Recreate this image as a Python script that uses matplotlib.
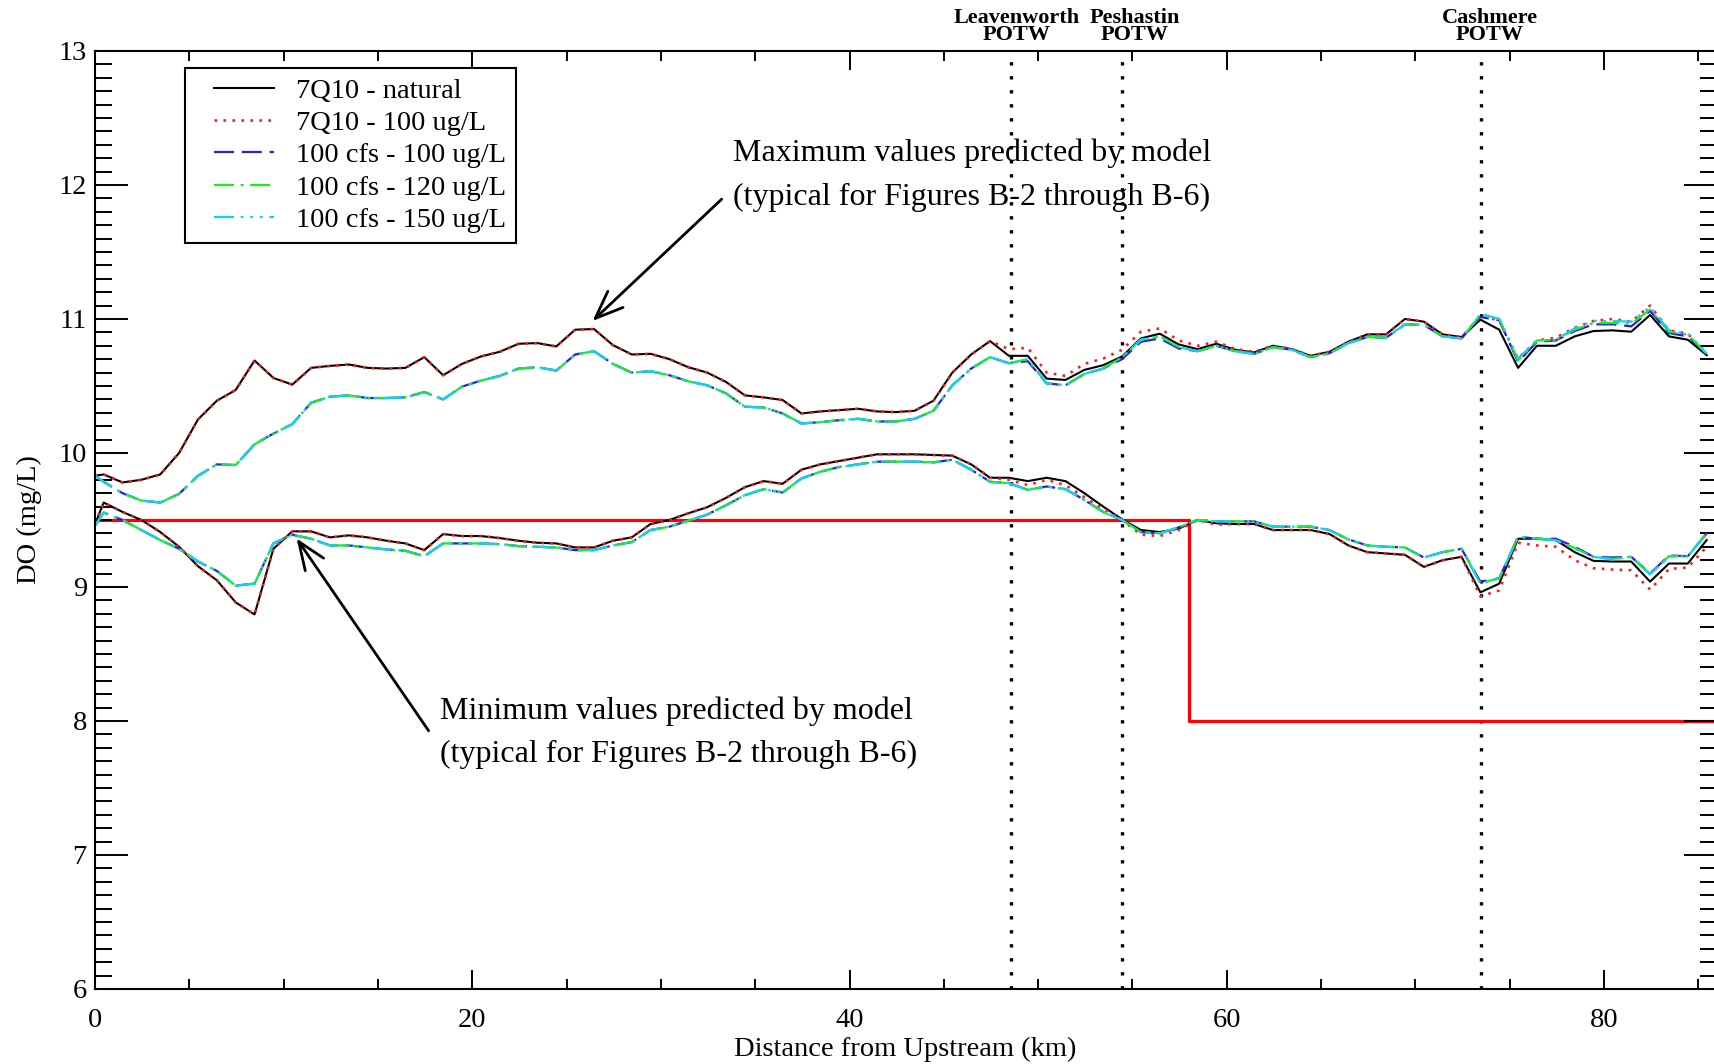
import numpy as np
import matplotlib
matplotlib.use('Agg')
import matplotlib.pyplot as plt
from matplotlib.ticker import MultipleLocator
from matplotlib.legend_handler import HandlerLine2D

plt.rcParams['font.family'] = ['Liberation Serif', 'DejaVu Serif']

# distance of model segments from the upstream boundary (km)
km = [0, 0.45, 1.45, 2.45, 3.45, 4.45, 5.45, 6.45, 7.45, 8.45,
      9.45, 10.45, 11.45, 12.45, 13.45, 14.45, 15.45, 16.45, 17.45, 18.45,
      19.45, 20.45, 21.45, 22.45, 23.45, 24.45, 25.45, 26.45, 27.45, 28.45,
      29.45, 30.45, 31.45, 32.45, 33.45, 34.45, 35.45, 36.45, 37.45, 38.45,
      39.45, 40.45, 41.45, 42.45, 43.45, 44.45, 45.45, 46.45, 47.45, 48.45,
      49.45, 50.45, 51.45, 52.45, 53.45, 54.45, 55.45, 56.45, 57.45, 58.45,
      59.45, 60.45, 61.45, 62.45, 63.45, 64.45, 65.45, 66.45, 67.45, 68.45,
      69.45, 70.45, 71.45, 72.45, 73.45, 74.45, 75.45, 76.45, 77.45, 78.45,
      79.45, 80.45, 81.45, 82.45, 83.45, 84.45, 85.45]

# daily maximum DO (mg/L)
nat_max = [9.83, 9.84, 9.78, 9.80, 9.84, 10.00, 10.25, 10.39, 10.47, 10.69,
           10.56, 10.51, 10.635, 10.65, 10.66, 10.635, 10.63, 10.635, 10.715, 10.58,
           10.665, 10.72, 10.755, 10.815, 10.82, 10.795, 10.92, 10.925, 10.805, 10.735,
           10.74, 10.70, 10.64, 10.60, 10.53, 10.43, 10.415, 10.395, 10.295, 10.31,
           10.32, 10.33, 10.31, 10.305, 10.315, 10.39, 10.60, 10.735, 10.835, 10.725,
           10.725, 10.555, 10.545, 10.62, 10.655, 10.72, 10.855, 10.89, 10.81, 10.775,
           10.815, 10.77, 10.75, 10.80, 10.775, 10.725, 10.755, 10.83, 10.885, 10.885,
           11.00, 10.98, 10.885, 10.865, 10.995, 10.92, 10.635, 10.80, 10.80, 10.87,
           10.91, 10.915, 10.905, 11.03, 10.87, 10.845, 10.73]
q7_max = [9.83, 9.84, 9.78, 9.80, 9.84, 10.00, 10.25, 10.39, 10.47, 10.69,
          10.56, 10.51, 10.635, 10.65, 10.66, 10.635, 10.63, 10.635, 10.715, 10.58,
          10.665, 10.72, 10.755, 10.815, 10.82, 10.795, 10.92, 10.925, 10.805, 10.735,
          10.74, 10.70, 10.64, 10.60, 10.53, 10.43, 10.415, 10.395, 10.295, 10.31,
          10.32, 10.33, 10.31, 10.305, 10.315, 10.39, 10.60, 10.735, 10.835, 10.775,
          10.785, 10.60, 10.575, 10.665, 10.705, 10.77, 10.905, 10.93, 10.84, 10.80,
          10.83, 10.775, 10.755, 10.80, 10.775, 10.725, 10.755, 10.83, 10.885, 10.885,
          11.00, 10.98, 10.885, 10.865, 11.02, 10.99, 10.705, 10.84, 10.86, 10.935,
          10.985, 11.00, 10.98, 11.10, 10.915, 10.89, 10.74]
cfs100_max = [9.83, 9.785, 9.70, 9.645, 9.63, 9.695, 9.83, 9.915, 9.91, 10.065,
              10.145, 10.215, 10.375, 10.42, 10.43, 10.41, 10.41, 10.415, 10.455, 10.40,
              10.495, 10.54, 10.575, 10.63, 10.64, 10.615, 10.735, 10.76, 10.665, 10.60,
              10.61, 10.58, 10.535, 10.505, 10.445, 10.345, 10.34, 10.295, 10.22, 10.23,
              10.245, 10.255, 10.235, 10.235, 10.255, 10.315, 10.505, 10.63, 10.715, 10.67,
              10.685, 10.52, 10.505, 10.59, 10.63, 10.70, 10.83, 10.855, 10.78, 10.76,
              10.80, 10.76, 10.74, 10.79, 10.77, 10.715, 10.745, 10.82, 10.865, 10.86,
              10.96, 10.955, 10.87, 10.855, 11.015, 10.99, 10.68, 10.83, 10.84, 10.91,
              10.96, 10.96, 10.945, 11.06, 10.895, 10.87, 10.74]
cfs120_max = [9.83, 9.785, 9.70, 9.645, 9.63, 9.695, 9.83, 9.915, 9.91, 10.065,
              10.145, 10.215, 10.375, 10.42, 10.43, 10.41, 10.41, 10.415, 10.455, 10.40,
              10.495, 10.54, 10.575, 10.63, 10.64, 10.615, 10.735, 10.76, 10.665, 10.60,
              10.61, 10.58, 10.535, 10.505, 10.445, 10.345, 10.34, 10.295, 10.22, 10.23,
              10.245, 10.255, 10.235, 10.235, 10.255, 10.315, 10.505, 10.63, 10.715, 10.67,
              10.70, 10.52, 10.505, 10.59, 10.63, 10.715, 10.845, 10.87, 10.79, 10.76,
              10.80, 10.76, 10.74, 10.79, 10.77, 10.715, 10.745, 10.82, 10.865, 10.86,
              10.96, 10.955, 10.87, 10.855, 11.03, 11.00, 10.69, 10.84, 10.845, 10.92,
              10.97, 10.97, 10.965, 11.07, 10.905, 10.885, 10.74]
cfs150_max = [9.83, 9.785, 9.70, 9.645, 9.63, 9.695, 9.83, 9.915, 9.91, 10.065,
              10.145, 10.215, 10.375, 10.42, 10.43, 10.41, 10.41, 10.415, 10.455, 10.40,
              10.495, 10.54, 10.575, 10.63, 10.64, 10.615, 10.735, 10.76, 10.665, 10.60,
              10.61, 10.58, 10.535, 10.505, 10.445, 10.345, 10.34, 10.295, 10.22, 10.23,
              10.245, 10.255, 10.235, 10.235, 10.255, 10.315, 10.505, 10.63, 10.715, 10.67,
              10.70, 10.52, 10.505, 10.59, 10.63, 10.715, 10.845, 10.87, 10.79, 10.76,
              10.80, 10.76, 10.74, 10.79, 10.77, 10.715, 10.745, 10.82, 10.865, 10.86,
              10.96, 10.955, 10.87, 10.855, 11.04, 11.00, 10.705, 10.84, 10.845, 10.93,
              10.985, 10.985, 10.98, 11.09, 10.915, 10.89, 10.74]

# daily minimum DO (mg/L)
nat_min = [9.47, 9.63, 9.56, 9.50, 9.41, 9.30, 9.155, 9.05, 8.885, 8.795,
           9.285, 9.415, 9.415, 9.37, 9.385, 9.37, 9.345, 9.325, 9.275, 9.395,
           9.38, 9.38, 9.365, 9.345, 9.33, 9.325, 9.295, 9.295, 9.345, 9.37,
           9.47, 9.50, 9.55, 9.595, 9.665, 9.745, 9.79, 9.77, 9.875, 9.915,
           9.94, 9.965, 9.99, 9.99, 9.99, 9.985, 9.98, 9.915, 9.815, 9.815,
           9.79, 9.815, 9.79, 9.70, 9.60, 9.505, 9.425, 9.41, 9.435, 9.50,
           9.475, 9.47, 9.47, 9.425, 9.425, 9.425, 9.395, 9.31, 9.26, 9.25,
           9.24, 9.15, 9.20, 9.225, 8.96, 9.025, 9.36, 9.36, 9.35, 9.26,
           9.195, 9.19, 9.19, 9.04, 9.175, 9.175, 9.35]
q7_min = [9.47, 9.63, 9.56, 9.50, 9.41, 9.30, 9.155, 9.05, 8.885, 8.795,
          9.285, 9.415, 9.415, 9.37, 9.385, 9.37, 9.345, 9.325, 9.275, 9.395,
          9.38, 9.38, 9.365, 9.345, 9.33, 9.325, 9.295, 9.295, 9.345, 9.37,
          9.47, 9.50, 9.55, 9.595, 9.665, 9.745, 9.79, 9.77, 9.875, 9.915,
          9.94, 9.965, 9.99, 9.99, 9.99, 9.985, 9.98, 9.915, 9.815, 9.80,
          9.76, 9.80, 9.76, 9.67, 9.585, 9.50, 9.39, 9.38, 9.425, 9.50,
          9.465, 9.47, 9.47, 9.425, 9.425, 9.425, 9.395, 9.31, 9.26, 9.25,
          9.24, 9.15, 9.20, 9.225, 8.93, 8.975, 9.33, 9.31, 9.30, 9.20,
          9.14, 9.13, 9.125, 8.98, 9.135, 9.145, 9.30]
cfs100_min = [9.46, 9.555, 9.50, 9.425, 9.35, 9.285, 9.19, 9.12, 9.01, 9.025,
              9.325, 9.39, 9.36, 9.31, 9.31, 9.295, 9.28, 9.27, 9.23, 9.325,
              9.325, 9.325, 9.32, 9.305, 9.30, 9.295, 9.275, 9.275, 9.31, 9.335,
              9.425, 9.45, 9.495, 9.54, 9.61, 9.685, 9.73, 9.705, 9.81, 9.86,
              9.895, 9.915, 9.935, 9.935, 9.935, 9.93, 9.95, 9.875, 9.785, 9.775,
              9.725, 9.75, 9.73, 9.65, 9.56, 9.50, 9.41, 9.40, 9.445, 9.50,
              9.49, 9.49, 9.49, 9.45, 9.45, 9.45, 9.425, 9.355, 9.31, 9.30,
              9.295, 9.22, 9.26, 9.285, 9.04, 9.065, 9.375, 9.36, 9.36, 9.30,
              9.225, 9.22, 9.225, 9.10, 9.235, 9.23, 9.40]
cfs120_min = [9.46, 9.555, 9.50, 9.425, 9.35, 9.285, 9.19, 9.12, 9.01, 9.025,
              9.325, 9.39, 9.36, 9.31, 9.31, 9.295, 9.28, 9.27, 9.23, 9.325,
              9.325, 9.325, 9.32, 9.305, 9.30, 9.295, 9.275, 9.275, 9.31, 9.335,
              9.425, 9.45, 9.495, 9.54, 9.61, 9.685, 9.73, 9.705, 9.81, 9.86,
              9.895, 9.915, 9.935, 9.935, 9.935, 9.93, 9.95, 9.875, 9.785, 9.775,
              9.725, 9.75, 9.73, 9.65, 9.56, 9.50, 9.41, 9.40, 9.445, 9.50,
              9.49, 9.49, 9.49, 9.45, 9.45, 9.45, 9.425, 9.355, 9.31, 9.30,
              9.295, 9.22, 9.26, 9.285, 9.03, 9.065, 9.375, 9.36, 9.35, 9.29,
              9.225, 9.21, 9.225, 9.095, 9.23, 9.23, 9.40]
cfs150_min = [9.46, 9.555, 9.50, 9.425, 9.35, 9.285, 9.19, 9.12, 9.01, 9.025,
              9.325, 9.39, 9.36, 9.31, 9.31, 9.295, 9.28, 9.27, 9.23, 9.325,
              9.325, 9.325, 9.32, 9.305, 9.30, 9.295, 9.275, 9.275, 9.31, 9.335,
              9.425, 9.45, 9.495, 9.54, 9.61, 9.685, 9.73, 9.705, 9.81, 9.86,
              9.895, 9.915, 9.935, 9.935, 9.935, 9.93, 9.95, 9.875, 9.785, 9.775,
              9.725, 9.75, 9.73, 9.65, 9.56, 9.50, 9.41, 9.40, 9.445, 9.50,
              9.49, 9.49, 9.49, 9.45, 9.45, 9.45, 9.425, 9.355, 9.31, 9.30,
              9.295, 9.22, 9.26, 9.285, 9.025, 9.065, 9.375, 9.36, 9.35, 9.285,
              9.225, 9.205, 9.225, 9.095, 9.225, 9.23, 9.40]

# DO criterion (mg/L)
crit_km = [0, 58, 58, 86]
crit_do = [9.5, 9.5, 8.0, 8.0]

potw_km = [48.58, 54.45, 73.47]
potw_names = ['Leavenworth', 'Peshastin', 'Cashmere']
potw_label_km = [48.85, 55.1, 73.95]

scenarios = [
    ('7Q10 - natural', nat_max, nat_min, 'black', '-', 1.5),
    ('7Q10 - 100 ug/L', q7_max, q7_min, '#ff1a1a', (0, (1, 2.4)), 1.9),
    ('100 cfs - 100 ug/L', cfs100_max, cfs100_min, '#3a16dc', (0, (9, 3.5)), 1.6),
    ('100 cfs - 120 ug/L', cfs120_max, cfs120_min, '#14f014', (0, (9, 3, 1.3, 3)), 1.6),
    ('100 cfs - 150 ug/L', cfs150_max, cfs150_min, '#12d2f4', (0, (9, 3, 1.3, 3, 1.3, 3, 1.3, 3)), 1.6),
]

fig = plt.figure(figsize=(17.15, 10.64), dpi=100)
ax = fig.add_axes([0.0555, 0.0705, 0.9457, 0.8816])

for label, hi, lo, col, ls, lw in scenarios:
    ax.plot(km, hi, color=col, linestyle=ls, lw=lw, label=label)
    ax.plot(km, lo, color=col, linestyle=ls, lw=lw)

ax.plot(crit_km, crit_do, color='#ff0000', lw=2.3, zorder=1)

for x in potw_km:
    ax.axvline(x, color='black', linestyle=(0, (1, 3.2)), lw=2.4, zorder=0)
for x, name in zip(potw_label_km, potw_names):
    ax.text(x, 1.006, name + '\nPOTW', transform=ax.get_xaxis_transform(),
            ha='center', va='bottom', fontsize=16, fontweight='bold',
            linespacing=0.82)

ax.set_xlim(0, 86)
ax.set_ylim(6, 13)
ax.xaxis.set_major_locator(MultipleLocator(20))
ax.xaxis.set_minor_locator(MultipleLocator(5))
ax.yaxis.set_major_locator(MultipleLocator(1))
ax.yaxis.set_minor_locator(MultipleLocator(0.1))
ax.tick_params(which='both', direction='in', top=True, right=True,
               width=1.4, labelsize=20.5)
ax.tick_params(axis='x', which='major', length=13.7, pad=14)
ax.tick_params(axis='x', which='minor', length=7)
ax.tick_params(axis='y', which='major', length=23.5, pad=6)
ax.tick_params(axis='y', which='minor', length=12)
for sp in ax.spines.values():
    sp.set_linewidth(1.5)

ax.set_xlabel('Distance from Upstream (km)', fontsize=20.5)
ax.set_ylabel('DO (mg/L)', fontsize=20.5)
ax.xaxis.set_label_coords(0.4997, -0.0515)
ax.yaxis.set_label_coords(-0.0328, 0.5)

# annotations for the max and min envelopes
ax.annotate('', xy=(26.37, 10.985), xytext=(33.22, 11.894),
            arrowprops=dict(arrowstyle='->,head_length=1.0,head_width=0.4',
                            color='black', lw=2, mutation_scale=20,
                            shrinkA=0, shrinkB=0))
ax.text(33.8, 12.237, 'Maximum values predicted by model', fontsize=23, va='center')
ax.text(33.8, 11.909, '(typical for Figures B-2 through B-6)', fontsize=23, va='center')

ax.annotate('', xy=(10.68, 9.362), xytext=(17.68, 7.927),
            arrowprops=dict(arrowstyle='->,head_length=1.0,head_width=0.4',
                            color='black', lw=2, mutation_scale=20,
                            shrinkA=0, shrinkB=0))
ax.text(18.26, 8.073, 'Minimum values predicted by model', fontsize=23, va='center')
ax.text(18.26, 7.747, '(typical for Figures B-2 through B-6)', fontsize=23, va='center')

leg = ax.legend(loc='upper left', bbox_to_anchor=(0.0554, 0.9817), fontsize=20.5,
                frameon=True, fancybox=False, edgecolor='black', framealpha=1,
                borderaxespad=0, handlelength=2.79, handletextpad=0.77,
                labelspacing=0.22, borderpad=0.35,
                handler_map={matplotlib.lines.Line2D: HandlerLine2D(xpad=0.68)})
leg.get_frame().set_linewidth(1.5)

fig.savefig('out.png', dpi=100)
